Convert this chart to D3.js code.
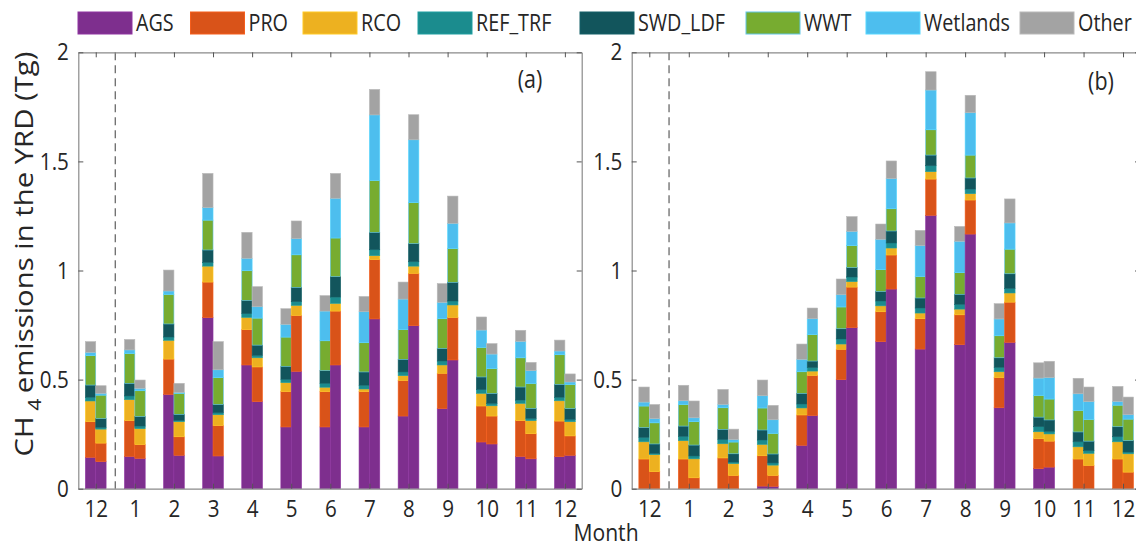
<!DOCTYPE html>
<html>
<head>
<meta charset="utf-8">
<script src="https://cdn.jsdelivr.net/npm/d3@7"></script>
<style>
  html, body { margin: 0; padding: 0; background: #fff; }
  svg { display: block; }
  text { font-family: "Open Sans", "Noto Sans", sans-serif; fill: #262626; }
</style>
</head>
<body>
<svg id="chart" width="1136" height="547"></svg>
<script>
// ---------------- data ----------------
const monthLabels = ["12","1","2","3","4","5","6","7","8","9","10","11","12"];
const categories = ["AGS","PRO","RCO","REF_TRF","SWD_LDF","WWT","Wetlands","Other"];
const colors = ["#7E2F8E","#D95319","#EDB120","#1B8C8E","#12555C","#77AC30","#4DBEEE","#A3A3A3"];
const yTicks = [0, 0.5, 1, 1.5, 2];

// Panel (a), left bar of each month
const aL_AGS = [0.144,0.148,0.432,0.784,0.567,0.283,0.283,0.283,0.333,0.367,0.214,0.148,0.147];
const aL_PRO = [0.163,0.164,0.162,0.163,0.162,0.162,0.162,0.162,0.163,0.162,0.165,0.164,0.163];
const aL_RCO = [0.095,0.096,0.086,0.073,0.056,0.041,0.020,0.012,0.022,0.038,0.058,0.079,0.093];
const aL_REF = [0.017,0.017,0.015,0.017,0.017,0.015,0.018,0.017,0.017,0.018,0.017,0.015,0.016];
const aL_SWD = [0.056,0.058,0.060,0.057,0.061,0.060,0.058,0.061,0.058,0.058,0.058,0.060,0.059];
const aL_WWT = [0.135,0.137,0.136,0.137,0.136,0.134,0.137,0.134,0.136,0.136,0.136,0.134,0.136];
const aL_WET = [0.015,0.016,0.015,0.057,0.057,0.058,0.136,0.142,0.140,0.075,0.079,0.075,0.017];
const aL_OTH = [0.049,0.048,0.096,0.157,0.119,0.072,0.071,0.070,0.078,0.086,0.060,0.051,0.050];

// Panel (a), right bar of each month
const aR_AGS = [0.124,0.139,0.153,0.150,0.399,0.538,0.567,0.778,0.747,0.590,0.205,0.137,0.153];
const aR_PRO = [0.085,0.063,0.085,0.139,0.159,0.256,0.247,0.272,0.240,0.195,0.128,0.115,0.089];
const aR_RCO = [0.064,0.073,0.069,0.050,0.042,0.046,0.035,0.018,0.033,0.057,0.047,0.060,0.065];
const aR_REF = [0.008,0.012,0.006,0.009,0.011,0.017,0.029,0.027,0.020,0.018,0.011,0.010,0.011];
const aR_SWD = [0.040,0.044,0.028,0.038,0.047,0.066,0.094,0.080,0.083,0.086,0.046,0.046,0.049];
const aR_WWT = [0.108,0.118,0.096,0.123,0.124,0.149,0.177,0.238,0.188,0.155,0.114,0.115,0.111];
const aR_WET = [0.008,0.011,0.004,0.036,0.052,0.074,0.182,0.300,0.288,0.115,0.066,0.058,0.011];
const aR_OTH = [0.035,0.038,0.042,0.129,0.092,0.081,0.114,0.117,0.115,0.125,0.048,0.038,0.037];

// Panel (b), left bar of each month
const bL_AGS = [0,0,0,0.012,0.199,0.500,0.674,0.640,0.660,0.371,0.092,0,0];
const bL_PRO = [0.136,0.136,0.141,0.139,0.139,0.139,0.137,0.139,0.137,0.138,0.137,0.136,0.136];
const bL_RCO = [0.079,0.084,0.065,0.052,0.032,0.024,0.027,0.026,0.026,0.027,0.032,0.056,0.079];
const bL_REF = [0.020,0.020,0.019,0.020,0.018,0.023,0.022,0.023,0.022,0.020,0.023,0.023,0.023];
const bL_SWD = [0.045,0.047,0.047,0.046,0.049,0.047,0.044,0.046,0.046,0.044,0.044,0.045,0.046];
const bL_WWT = [0.099,0.099,0.099,0.101,0.099,0.100,0.100,0.099,0.099,0.101,0.100,0.099,0.099];
const bL_WET = [0.018,0.017,0.015,0.056,0.057,0.056,0.139,0.141,0.144,0.077,0.079,0.076,0.017];
const bL_OTH = [0.069,0.071,0.069,0.072,0.070,0.072,0.070,0.070,0.068,0.070,0.070,0.071,0.069];

// Panel (b), right bar of each month
const bR_AGS = [0,0,0,0.011,0.335,0.738,0.915,1.253,1.167,0.671,0.099,0,0];
const bR_PRO = [0.078,0.050,0.061,0.050,0.184,0.186,0.156,0.166,0.156,0.184,0.119,0.107,0.076];
const bR_RCO = [0.078,0.087,0.054,0.047,0.020,0.025,0.032,0.034,0.029,0.042,0.033,0.055,0.084];
const bR_REF = [0.006,0.013,0.007,0.010,0.016,0.021,0.023,0.027,0.021,0.021,0.012,0.012,0.008];
const bR_SWD = [0.043,0.050,0.038,0.041,0.030,0.043,0.055,0.049,0.051,0.067,0.052,0.044,0.052];
const bR_WWT = [0.097,0.107,0.054,0.095,0.121,0.101,0.102,0.116,0.105,0.113,0.096,0.100,0.099];
const bR_WET = [0.019,0.018,0.011,0.062,0.073,0.065,0.138,0.182,0.194,0.120,0.098,0.081,0.020];
const bR_OTH = [0.065,0.077,0.048,0.066,0.049,0.068,0.081,0.084,0.080,0.110,0.075,0.067,0.081];

const panels = [
  { label: "(a)", range: [78.3, 581.7], labelPos: [530, 88],
    left:  [aL_AGS,aL_PRO,aL_RCO,aL_REF,aL_SWD,aL_WWT,aL_WET,aL_OTH],
    right: [aR_AGS,aR_PRO,aR_RCO,aR_REF,aR_SWD,aR_WWT,aR_WET,aR_OTH] },
  { label: "(b)", range: [631.7, 1140], labelPos: [1101, 90],
    left:  [bL_AGS,bL_PRO,bL_RCO,bL_REF,bL_SWD,bL_WWT,bL_WET,bL_OTH],
    right: [bR_AGS,bR_PRO,bR_RCO,bR_REF,bR_SWD,bR_WWT,bR_WET,bR_OTH] }
];

// ---------------- drawing ----------------
const svg = d3.select("#chart");
const SX = 0.86;           // horizontal condensing of text
const frameColor = "#8a8a8a";
const yTop = 52.3, yBot = 488.7;
const y = d3.scaleLinear().domain([0, 2]).range([yBot, yTop]);
const barW = 0.265;

function buildRows(series) {
  return monthLabels.map((m, i) => {
    const row = { idx: i };
    categories.forEach((c, k) => { row[c] = series[k][i]; });
    return row;
  });
}
const stack = d3.stack().keys(categories);

panels.forEach(p => {
  const x = d3.scaleLinear().domain([-0.446, 12.43]).range(p.range);
  const g = svg.append("g");

  // bars
  [["left", -barW, 0], ["right", 0, barW]].forEach(([side, o0, o1]) => {
    const layers = stack(buildRows(p[side]));
    layers.forEach((layer, k) => {
      const col = colors[k];
      const stroke = categories[k] === "WWT" ? "#62c6e6" : d3.color(col).brighter(0.35).formatHex();
      g.append("g").selectAll("rect").data(layer).join("rect")
        .attr("x", d => x(d.data.idx + o0))
        .attr("width", d => x(d.data.idx + o1) - x(d.data.idx + o0))
        .attr("y", d => y(d[1]))
        .attr("height", d => Math.max(0, y(d[0]) - y(d[1])))
        .attr("fill", col)
        .attr("stroke", d => (d[1] - d[0]) > 0 ? stroke : "none")
        .attr("stroke-width", 0.6);
    });
  });

  // dashed separator between previous December and January
  g.append("line")
    .attr("x1", x(0.5)).attr("x2", x(0.5))
    .attr("y1", y(2)).attr("y2", y(0))
    .attr("stroke", "#6a6a6a").attr("stroke-width", 1.3)
    .attr("stroke-dasharray", "8,5");

  // axes
  const tickIdx = d3.range(monthLabels.length);
  const axB = g.append("g").attr("transform", `translate(0,${yBot})`)
    .call(d3.axisBottom(x).tickValues(tickIdx).tickFormat(i => monthLabels[i])
      .tickSizeInner(-5).tickSizeOuter(0).tickPadding(11));
  const axT = g.append("g").attr("transform", `translate(0,${yTop})`)
    .call(d3.axisTop(x).tickValues(tickIdx).tickFormat("").tickSizeInner(-5).tickSizeOuter(0));
  const axL = g.append("g").attr("transform", `translate(${p.range[0]},0)`)
    .call(d3.axisLeft(y).tickValues(yTicks).tickFormat(d => String(d))
      .tickSizeInner(-5).tickSizeOuter(0).tickPadding(11));
  const axR = g.append("g").attr("transform", `translate(${p.range[1]},0)`)
    .call(d3.axisRight(y).tickValues(yTicks).tickFormat("").tickSizeInner(-5).tickSizeOuter(0));

  [axB, axT, axL, axR].forEach(a => {
    a.select(".domain").attr("stroke", frameColor).attr("stroke-width", 1.2);
    a.selectAll(".tick line").attr("stroke", "#555").attr("stroke-width", 1);
    a.selectAll("text").attr("font-family", "Open Sans").attr("font-size", 24)
      .attr("fill", "#333").attr("transform", `scale(${SX},1)`);
  });
  axB.selectAll("text").attr("dy", "0.71em");

  // panel label
  g.append("text")
    .attr("transform", `translate(${p.labelPos[0]},${p.labelPos[1]}) scale(${SX},1)`)
    .attr("text-anchor", "middle").attr("font-size", 25).text(p.label);
});

// x-axis title
svg.append("text")
  .attr("transform", `translate(606,541) scale(0.92,1)`)
  .attr("text-anchor", "middle").attr("font-size", 23).attr("fill", "#333")
  .text("Month");

// y-axis title, fitted to its span in the figure
const yl = svg.append("text")
  .attr("text-anchor", "middle").attr("font-size", 25).attr("fill", "#333");
yl.append("tspan").text("CH");
yl.append("tspan").attr("dy", 8).attr("font-size", 18).text(" 4 ");
yl.append("tspan").attr("dy", -8).text("emissions in the YRD (Tg)");
const ylLen = yl.node().getComputedTextLength();
yl.attr("transform", `translate(33,254) rotate(-90) scale(${(405 / ylLen).toFixed(3)},1)`);

// legend (swatch left edges as laid out in the figure)
const legendX = [78, 190.5, 303, 418, 580, 746, 866, 1020];
const legend = svg.append("g");
categories.forEach((c, k) => {
  const lx = legendX[k];
  legend.append("rect")
    .attr("x", lx).attr("y", 12).attr("width", 54).attr("height", 22)
    .attr("fill", colors[k])
    .attr("stroke", c === "WWT" ? "#62c6e6" : d3.color(colors[k]).brighter(0.35).formatHex())
    .attr("stroke-width", 1);
  legend.append("text")
    .attr("transform", `translate(${lx + 58},31) scale(${SX},1)`)
    .attr("font-size", 23).attr("fill", "#262626").text(c);
});
</script>
</body>
</html>
